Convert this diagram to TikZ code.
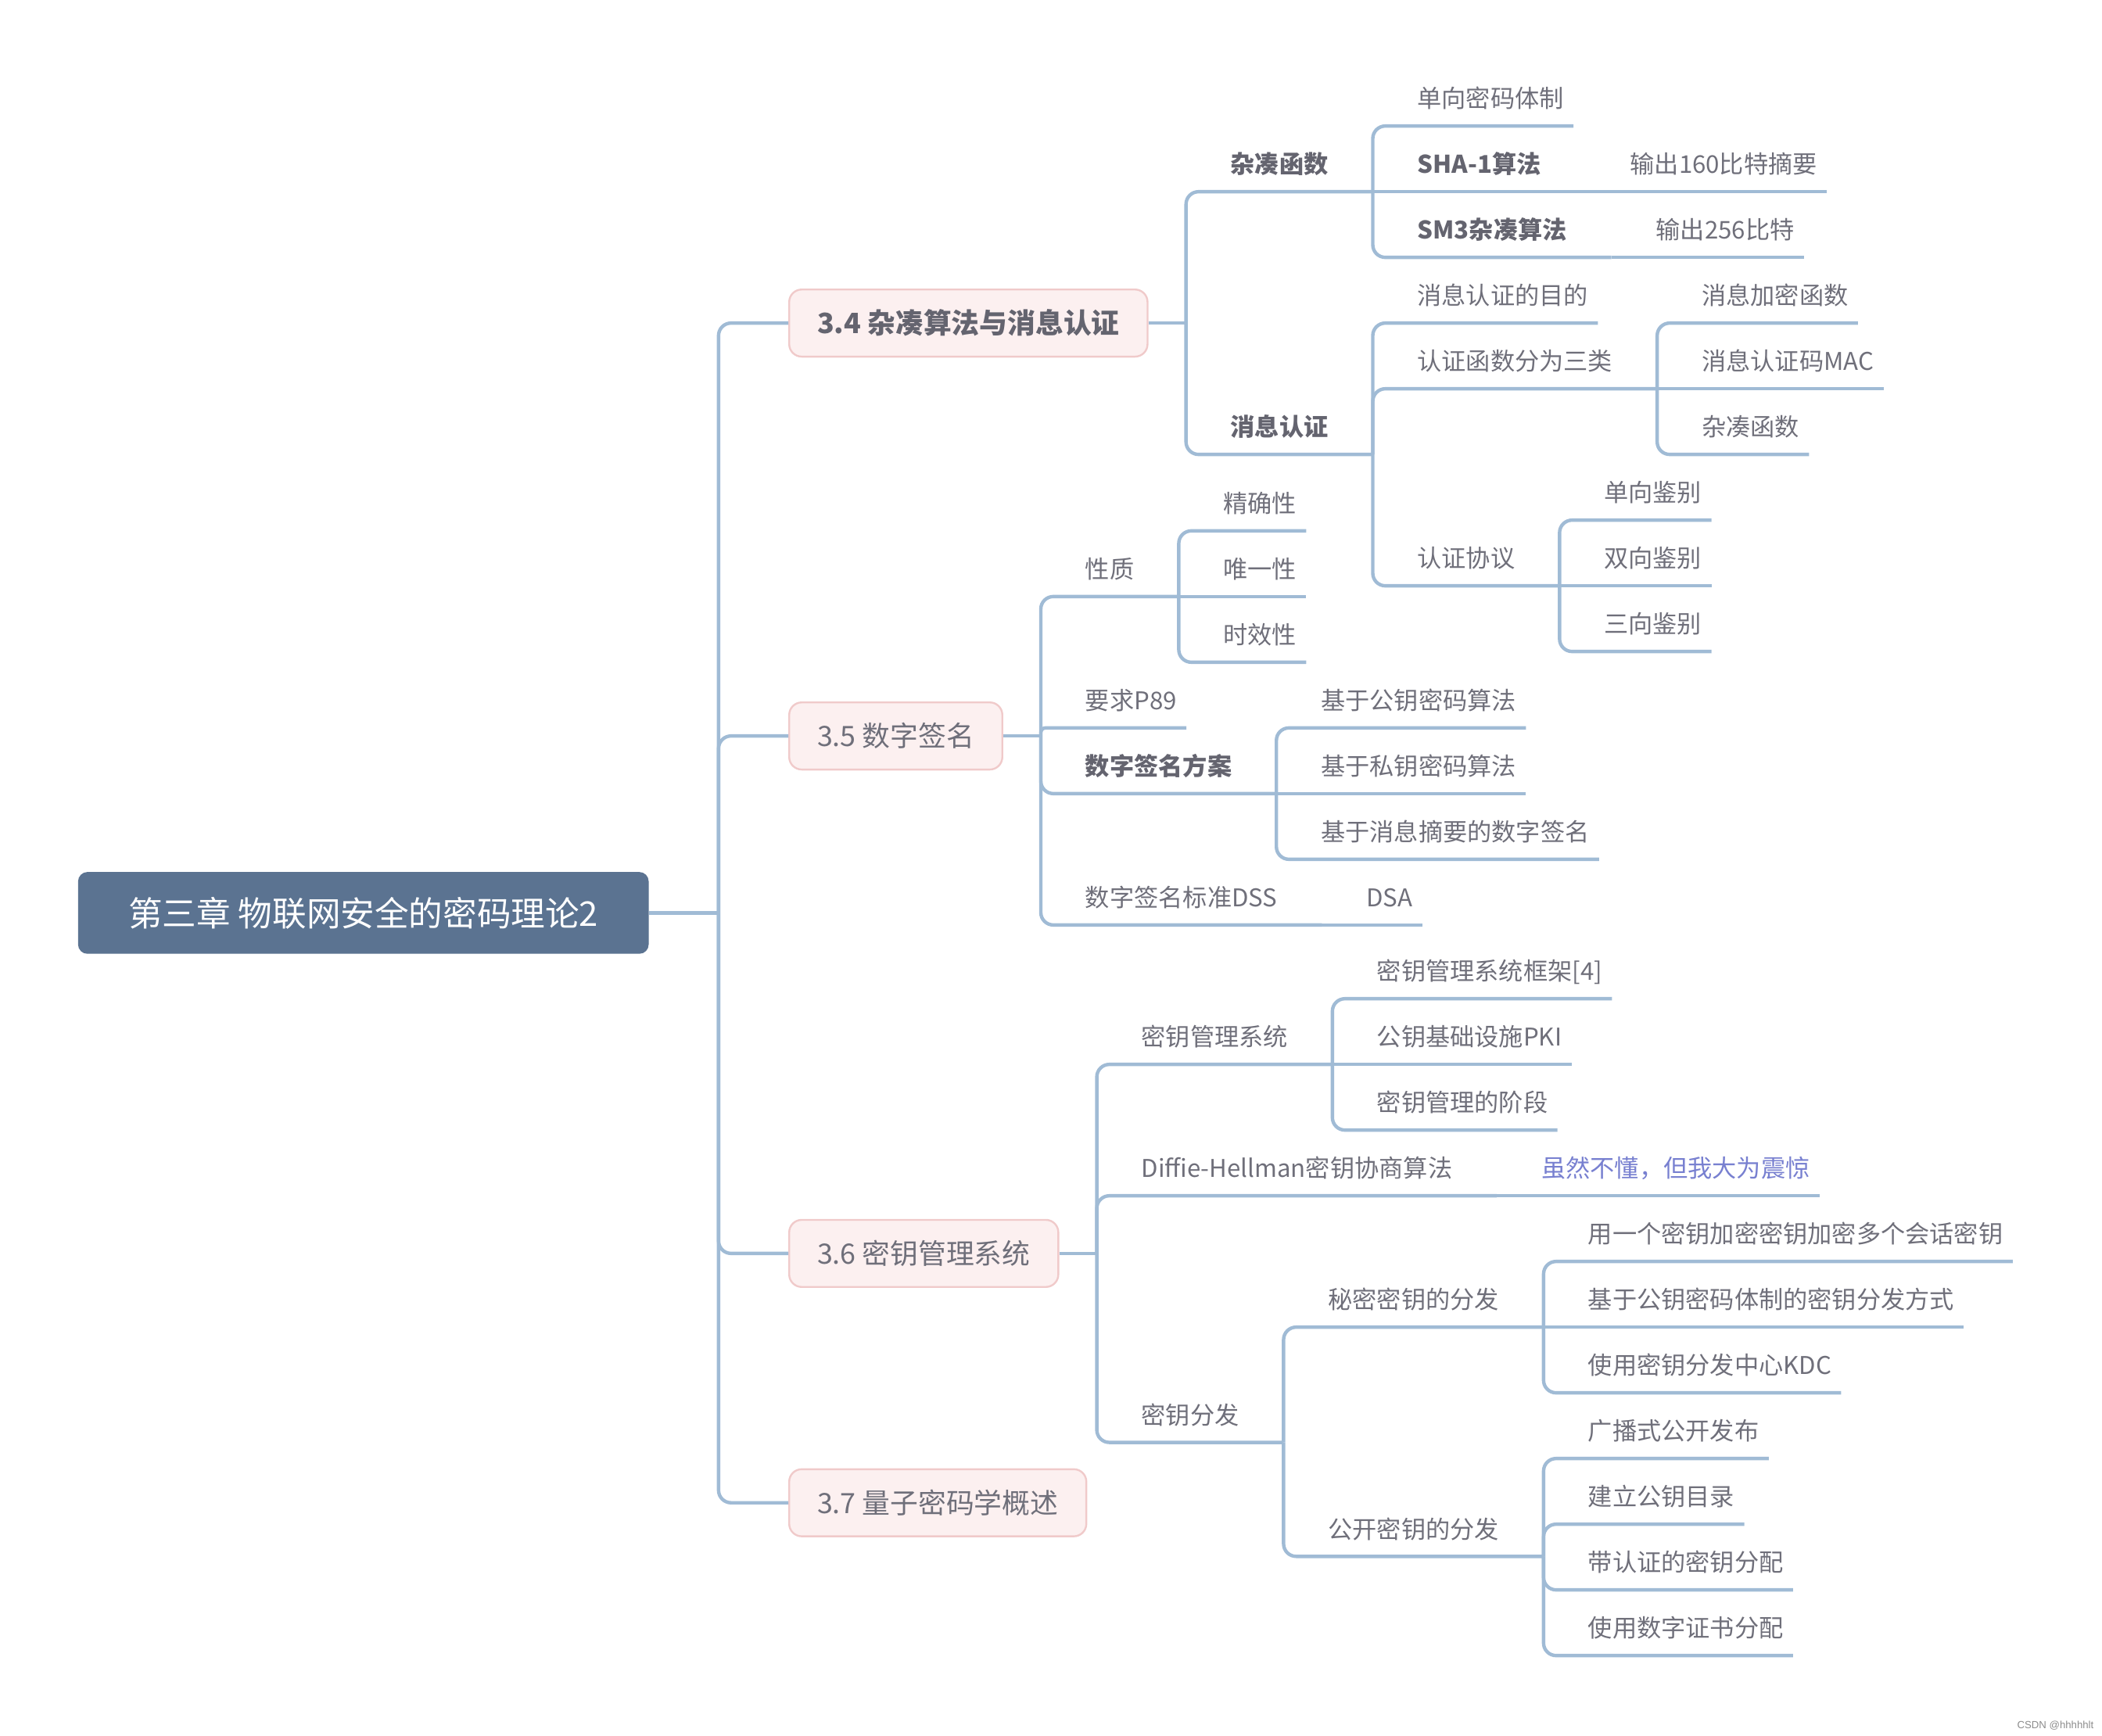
\documentclass[tikz,border=0pt]{standalone}
\usepackage{fontspec}
\setmainfont{Noto Sans CJK SC}
\newfontfamily\wmfont{Liberation Sans}
\definecolor{lncol}{HTML}{A0BBD5}
\definecolor{rootcol}{HTML}{5B7391}
\definecolor{secfill}{HTML}{FCF0F0}
\definecolor{secdraw}{HTML}{F0CACA}
\definecolor{txtcol}{HTML}{6F6F7A}
\definecolor{boldcol}{HTML}{64646F}
\definecolor{bluecol}{HTML}{7880D0}
\begin{document}
\begin{tikzpicture}[x=0.857pt,y=-0.857pt,
  conn/.style={draw=lncol, line width=2.2pt, rounded corners=8pt},
  rootbox/.style={fill=rootcol, rounded corners=6pt, anchor=west, minimum height=52.3pt, inner xsep=32.2pt, text=white, font=\fontsize{21.8pt}{26pt}\selectfont},
  secbox/.style={fill=secfill, draw=secdraw, line width=1.2pt, rounded corners=8pt, anchor=west, minimum height=42.9pt, inner xsep=17.9pt, text=txtcol, font=\fontsize{17.9pt}{21pt}\selectfont},
  tp/.style={anchor=south west, inner xsep=0pt, inner ysep=11.4pt, text depth=0pt, text=txtcol, font=\fontsize{15.6pt}{19pt}\selectfont, execute at begin node={\hspace*{28.3pt}}},
  lf/.style={tp, execute at end node={\hspace*{6pt}}},
  pr/.style={tp, execute at end node={\hspace*{28.3pt}}},
  bd/.style={text=boldcol, font=\fontsize{15.6pt}{19pt}\selectfont\bfseries},
]
\useasboundingbox (0,0) rectangle (1568,1295);

% root and sections
\node[rootbox] (root) at (58,681) {第三章 物联网安全的密码理论2};
\coordinate (rs) at (536,681);
\node[secbox, font=\fontsize{17.9pt}{21pt}\selectfont\bfseries, text=boldcol] (b34) at (588,241) {3.4 杂凑算法与消息认证};
\node[secbox] (b35) at (588,549) {3.5 数字签名};
\node[secbox] (b36) at (588,935) {3.6 密钥管理系统};
\node[secbox] (b37) at (588,1121) {3.7 量子密码学概述};
\draw[conn] (root.east) -- (rs);
\draw[conn] (rs) |- (b34.west);
\draw[conn] (rs) |- (b35.west);
\draw[conn] (rs) |- (b36.west);
\draw[conn] (rs) |- (b37.west);

% ---------- 3.4
\coordinate (b34s) at ([xshift=24pt]b34.east);
\draw[conn] (b34.east) -- (b34s);
\node[pr,bd] (h1) at (b34s |- 0,143) {杂凑函数};
\node[pr,bd] (h2) at (b34s |- 0,339) {消息认证};
\draw[conn] (b34s) |- (h1.south east);
\draw[conn] (b34s) |- (h2.south east);

\node[lf] (h11) at (h1.south east |- 0,94) {单向密码体制};
\node[pr,bd] (h12) at (h1.south east |- 0,143) {SHA-1算法};
\node[pr,bd] (h13) at (h1.south east |- 0,192) {SM3杂凑算法};
\node[lf] (h121) at (h12.south east) {输出160比特摘要};
\node[lf] (h131) at (h13.south east) {输出256比特};
\draw[conn] (h1.south east) |- (h11.south east);
\draw[conn] (h1.south east) -- (h12.south east);
\draw[conn] (h1.south east) |- (h13.south east);
\draw[conn] (h12.south east) -- (h121.south east);
\draw[conn] (h13.south east) -- (h131.south east);

\node[lf] (m1) at (h2.south east |- 0,241) {消息认证的目的};
\node[pr] (m2) at (h2.south east |- 0,290) {认证函数分为三类};
\node[pr] (m3) at (h2.south east |- 0,437) {认证协议};
\draw[conn] (h2.south east) |- (m1.south east);
\draw[conn] (h2.south east) |- (m2.south east);
\draw[conn] (h2.south east) |- (m3.south east);

\node[lf] (m21) at (m2.south east |- 0,241) {消息加密函数};
\node[lf] (m22) at (m2.south east |- 0,290) {消息认证码MAC};
\node[lf] (m23) at (m2.south east |- 0,339) {杂凑函数};
\draw[conn] (m2.south east) |- (m21.south east);
\draw[conn] (m2.south east) -- (m22.south east);
\draw[conn] (m2.south east) |- (m23.south east);

\node[lf] (m31) at (m3.south east |- 0,388) {单向鉴别};
\node[lf] (m32) at (m3.south east |- 0,437) {双向鉴别};
\node[lf] (m33) at (m3.south east |- 0,486) {三向鉴别};
\draw[conn] (m3.south east) |- (m31.south east);
\draw[conn] (m3.south east) -- (m32.south east);
\draw[conn] (m3.south east) |- (m33.south east);

% ---------- 3.5
\coordinate (b35s) at ([xshift=24pt]b35.east);
\draw[conn] (b35.east) -- (b35s);
\node[pr] (s1) at (b35s |- 0,445) {性质};
\node[lf] (s2) at (b35s |- 0,543) {要求P89};
\node[pr,bd] (s3) at (b35s |- 0,592) {数字签名方案};
\node[pr] (s4) at (b35s |- 0,690) {数字签名标准DSS};
\draw[conn] (b35s) |- (s1.south east);
\draw[conn, rounded corners=3pt] (b35s) |- (s2.south east);
\draw[conn] (b35s) |- (s3.south east);
\draw[conn] (b35s) |- (s4.south east);

\node[lf] (s11) at (s1.south east |- 0,396) {精确性};
\node[lf] (s12) at (s1.south east |- 0,445) {唯一性};
\node[lf] (s13) at (s1.south east |- 0,494) {时效性};
\draw[conn] (s1.south east) |- (s11.south east);
\draw[conn] (s1.south east) -- (s12.south east);
\draw[conn] (s1.south east) |- (s13.south east);

\node[lf] (s31) at (s3.south east |- 0,543) {基于公钥密码算法};
\node[lf] (s32) at (s3.south east |- 0,592) {基于私钥密码算法};
\node[lf] (s33) at (s3.south east |- 0,641) {基于消息摘要的数字签名};
\draw[conn] (s3.south east) |- (s31.south east);
\draw[conn] (s3.south east) -- (s32.south east);
\draw[conn] (s3.south east) |- (s33.south east);

\node[lf] (s41) at (s4.south east) {DSA};
\draw[conn] (s4.south east) -- (s41.south east);

% ---------- 3.6
\coordinate (b36s) at ([xshift=24pt]b36.east);
\draw[conn] (b36.east) -- (b36s);
\node[pr] (k1) at (b36s |- 0,794) {密钥管理系统};
\node[pr] (k2) at (b36s |- 0,892) {Diffie-Hellman密钥协商算法};
\node[pr] (k3) at (b36s |- 0,1076) {密钥分发};
\draw[conn] (b36s) |- (k1.south east);
\draw[conn] (b36s) |- (k2.south east);
\draw[conn] (b36s) |- (k3.south east);

\node[lf] (k11) at (k1.south east |- 0,745) {密钥管理系统框架[4]};
\node[lf] (k12) at (k1.south east |- 0,794) {公钥基础设施PKI};
\node[lf] (k13) at (k1.south east |- 0,843) {密钥管理的阶段};
\draw[conn] (k1.south east) |- (k11.south east);
\draw[conn] (k1.south east) -- (k12.south east);
\draw[conn] (k1.south east) |- (k13.south east);

\node[lf, text=bluecol] (k21) at (k2.south east) {虽然不懂，但我大为震惊};
\draw[conn] (k2.south east) -- (k21.south east);

\node[pr] (k31) at (k3.south east |- 0,990) {秘密密钥的分发};
\node[pr] (k32) at (k3.south east |- 0,1161) {公开密钥的分发};
\draw[conn] (k3.south east) |- (k31.south east);
\draw[conn] (k3.south east) |- (k32.south east);

\node[lf] (k311) at (k31.south east |- 0,941) {用一个密钥加密密钥加密多个会话密钥};
\node[lf] (k312) at (k31.south east |- 0,990) {基于公钥密码体制的密钥分发方式};
\node[lf] (k313) at (k31.south east |- 0,1039) {使用密钥分发中心KDC};
\draw[conn] (k31.south east) |- (k311.south east);
\draw[conn] (k31.south east) -- (k312.south east);
\draw[conn] (k31.south east) |- (k313.south east);

\node[lf] (k321) at (k32.south east |- 0,1088) {广播式公开发布};
\node[lf] (k322) at (k32.south east |- 0,1137) {建立公钥目录};
\node[lf] (k323) at (k32.south east |- 0,1186) {带认证的密钥分配};
\node[lf] (k324) at (k32.south east |- 0,1235) {使用数字证书分配};
\draw[conn] (k32.south east) |- (k321.south east);
\draw[conn] (k32.south east) |- (k322.south east);
\draw[conn] (k32.south east) |- (k323.south east);
\draw[conn] (k32.south east) |- (k324.south east);

% watermark
\node[anchor=east, inner sep=0pt, text=black!45, font=\wmfont\fontsize{6.6pt}{7pt}\selectfont] (wm) at (1562,1287) {CSDN @hhhhhlt};
\end{tikzpicture}
\end{document}
